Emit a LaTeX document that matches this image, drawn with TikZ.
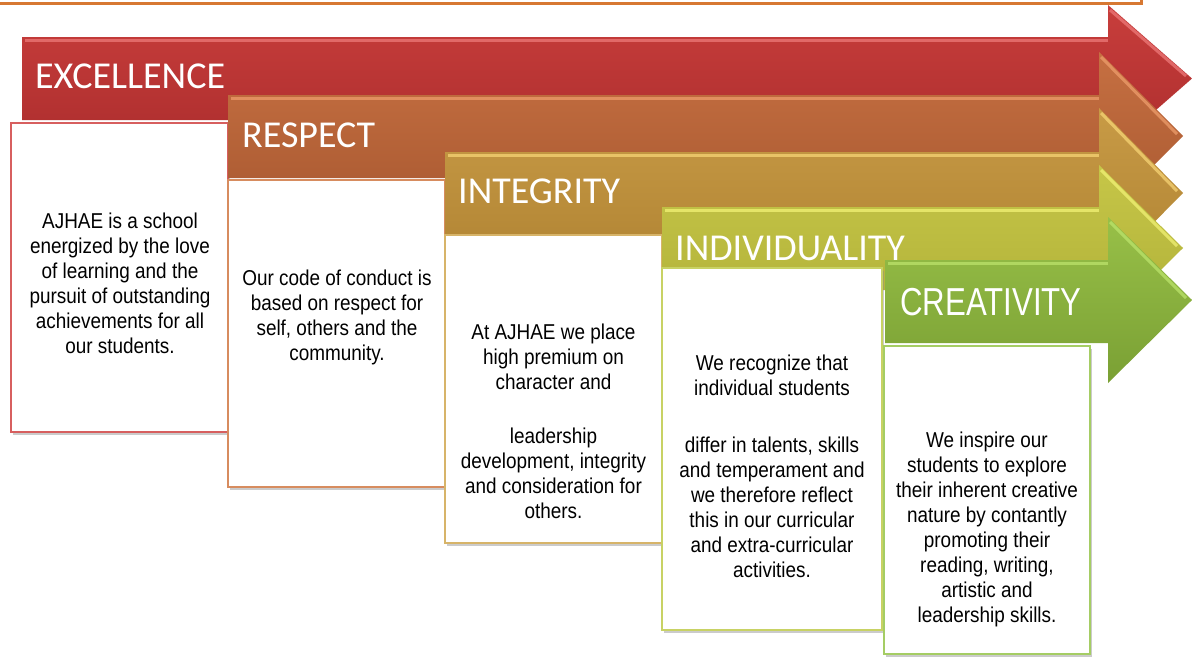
\documentclass[tikz,border=0pt]{standalone}
\usepackage{fontspec}
\setmainfont{Liberation Sans}
\newfontfamily\labelfont{Carlito}
\newfontfamily\bodyfont[FakeStretch=0.88]{Liberation Sans}
\newfontfamily\creafont[FakeStretch=0.8]{Liberation Sans}
\definecolor{topline}{RGB}{215,120,50}
\definecolor{redT}{RGB}{200,62,60}\definecolor{redB}{RGB}{172,45,45}\definecolor{redH}{RGB}{240,125,125}\definecolor{redBox}{RGB}{215,95,95}
\definecolor{orT}{RGB}{198,112,66}\definecolor{orB}{RGB}{168,88,48}\definecolor{orH}{RGB}{240,160,110}\definecolor{orBox}{RGB}{215,140,95}
\definecolor{gdT}{RGB}{200,155,70}\definecolor{gdB}{RGB}{175,130,50}\definecolor{gdH}{RGB}{250,215,120}\definecolor{gdBox}{RGB}{215,180,105}
\definecolor{ygT}{RGB}{198,198,72}\definecolor{ygB}{RGB}{175,175,55}\definecolor{ygH}{RGB}{245,245,120}\definecolor{ygBox}{RGB}{200,210,100}
\definecolor{grT}{RGB}{152,192,72}\definecolor{grB}{RGB}{122,160,52}\definecolor{grH}{RGB}{190,230,110}\definecolor{grBox}{RGB}{165,205,100}
\tikzset{
  arrowshape/.style={draw=none},
  hilite/.style={line width=3pt, opacity=0.7},
  textbox/.style={rectangle, fill=white, line width=2pt, inner sep=0pt,
    preaction={fill=black!45, opacity=0.45, transform canvas={shift={(2pt,-3pt)}}}},
  steplabel/.style={font=\labelfont\fontsize{38}{40}\selectfont, text=white, inner sep=0pt, anchor=base west},
  bodytext/.style={font=\bodyfont\fontsize{21.5}{25}\selectfont, align=center, text=black, inner sep=0pt, anchor=base}
}
\begin{document}
\begin{tikzpicture}[x=1pt,y=-1pt]
\useasboundingbox (0,0) rectangle (1193,656);
\fill[white] (0,0) rectangle (1193,656);
% top frame line
\coordinate (tl0) at (0,3);
\coordinate (tl1) at (1141,3);
\coordinate (tl2) at (1141,0);
\draw[topline, line width=3pt] (tl0) -- (tl1) -- (tl2);

% ---- EXCELLENCE
\path[arrowshape, top color=redT, bottom color=redB] (22,37) -- (1108,37) -- (1108,5) -- (1192,78.5) -- (1108,152) -- (1108,120) -- (22,120) -- cycle;
\draw[hilite, redH] (25,40) -- (1108,40);
\draw[hilite, redH] (1110,10) -- (1186,76);
\node[steplabel] (l1) at (35,88) {EXCELLENCE};
\node[textbox, draw=redBox, minimum width=217pt, minimum height=309pt] (b1) at (119.5,277.5) {};
\node[bodytext] (t1) at (120,353) {AJHAE is a school\\energized by the love\\of learning and the\\pursuit of outstanding\\achievements for all\\our students.};

% ---- RESPECT
\path[arrowshape, top color=orT, bottom color=orB] (228,95) -- (1099,95) -- (1099,52) -- (1183,136) -- (1099,220) -- (1099,178) -- (228,178) -- cycle;
\draw[hilite, orH] (231,98) -- (1099,98);
\draw[hilite, orH] (1101,57) -- (1177,134);
\node[steplabel] (l2) at (242,147) {RESPECT};
\node[textbox, draw=orBox, minimum width=217pt, minimum height=307pt] (b2) at (336.5,333.5) {};
\node[bodytext] (t2) at (337,360) {Our code of conduct is\\based on respect for\\self, others and the\\community.};

% ---- INTEGRITY
\path[arrowshape, top color=gdT, bottom color=gdB] (445,152) -- (1099,152) -- (1099,108) -- (1183,193) -- (1099,278) -- (1099,235) -- (445,235) -- cycle;
\draw[hilite, gdH] (448,155) -- (1099,155);
\draw[hilite, gdH] (1101,113) -- (1177,191);
\node[steplabel] (l3) at (458,203) {INTEGRITY};
\node[textbox, draw=gdBox, minimum width=217pt, minimum height=308pt] (b3) at (553.5,389) {};
\node[bodytext] (t3) at (553.5,518) {At AJHAE we place\\high premium on\\character and\\[29pt]leadership\\development, integrity\\and consideration for\\others.};

% ---- INDIVIDUALITY
\path[arrowshape, top color=ygT, bottom color=ygB] (662,207) -- (1099,207) -- (1099,165) -- (1183,248) -- (1099,331) -- (1099,290) -- (662,290) -- cycle;
\draw[hilite, ygH] (665,210) -- (1099,210);
\draw[hilite, ygH] (1101,170) -- (1177,246);
\node[steplabel] (l4) at (675,260) {INDIVIDUALITY};
\node[textbox, draw=ygBox, minimum width=220pt, minimum height=362pt] (b4) at (772,449) {};
\node[bodytext] (t4) at (772,577) {We recognize that\\individual students\\[32pt]differ in talents, skills\\and temperament and\\we therefore reflect\\this in our curricular\\and extra-curricular\\activities.};

% ---- CREATIVITY
\path[arrowshape, top color=grT, bottom color=grB] (885,260) -- (1108,260) -- (1108,217) -- (1192,300) -- (1108,383) -- (1108,343) -- (885,343) -- cycle;
\draw[hilite, grH] (888,263) -- (1108,263);
\draw[hilite, grH] (1110,222) -- (1186,298);
\node[steplabel, font=\creafont\fontsize{39}{40}\selectfont] (l5) at (900,315) {CREATIVITY};
\node[textbox, draw=grBox, minimum width=206pt, minimum height=308pt] (b5) at (987,500) {};
\node[bodytext] (t5) at (987,622) {We inspire our\\students to explore\\their inherent creative\\nature by contantly\\promoting their\\reading, writing,\\artistic and\\leadership skills.};
\end{tikzpicture}
\end{document}
